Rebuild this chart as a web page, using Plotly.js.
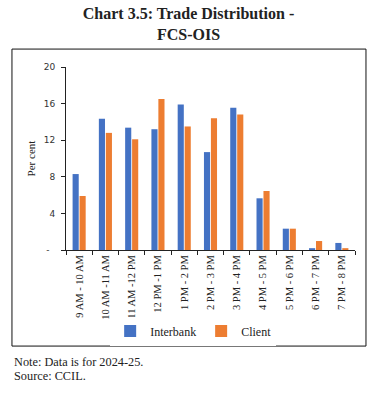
<!DOCTYPE html>
<html>
<head>
<meta charset="utf-8">
<script src="https://cdn.plot.ly/plotly-3.0.1.min.js"></script>
<style>html,body{margin:0;padding:0;background:#fff;}</style>
</head>
<body>
<div id="chart" style="width:377px;height:393px;"></div>
<script>
const categories = ["9 AM - 10 AM", "10 AM -11 AM", "11 AM -12 PM", "12 PM -1 PM", "1 PM - 2 PM", "2 PM - 3 PM", "3 PM - 4 PM", "4 PM - 5 PM", "5 PM - 6 PM", "6 PM - 7 PM", "7 PM - 8 PM"];
const interbank = [8.3, 14.35, 13.37, 13.2, 15.9, 10.7, 15.55, 5.65, 2.33, 0.2, 0.77];
const client = [5.9, 12.8, 12.1, 16.5, 13.5, 14.4, 14.8, 6.45, 2.33, 0.98, 0.2];
const yTickVals = [0, 4, 8, 12, 16, 20];
const yTickText = ["-\u00a0\u00a0", "4", "8", "12", "16", "20"];

const serif = "Liberation Serif, Times New Roman, serif";
const traces = [
  {type: "bar", name: "Interbank", x: categories, y: interbank, marker: {color: "#4472C4"}},
  {type: "bar", name: "Client", x: categories, y: client, marker: {color: "#ED7D31"}}
];
const layout = {
  width: 377, height: 393,
  margin: {l: 66, r: 22, t: 67, b: 143},
  paper_bgcolor: "#fff", plot_bgcolor: "#fff",
  barmode: "group", bargap: 0.47, bargroupgap: 0.12,
  showlegend: true,
  title: {text: "<b>Chart 3.5: Trade Distribution -<br>FCS-OIS</b>", x: 0.5, xref: "container", xanchor: "center", y: 1 - 19 / 393, yanchor: "middle", yref: "container",
    font: {family: serif, size: 16, color: "#222"}},
  font: {family: serif, color: "#222"},
  xaxis: {
    type: "category", tickangle: -90, tickson: "boundaries", ticks: "outside", ticklen: 4, tickcolor: "#222",
    showline: true, linecolor: "#222", linewidth: 1, showgrid: false, zeroline: false,
    tickfont: {family: serif, size: 10.5, color: "#222"}, automargin: false
  },
  yaxis: {
    range: [0, 20], tickvals: yTickVals, ticktext: yTickText, ticks: "outside", ticklen: 4, tickcolor: "#222",
    showline: true, linecolor: "#222", linewidth: 1, showgrid: false, zeroline: false, ticklabelstandoff: 4,
    tickfont: {family: "DejaVu Sans, Verdana, sans-serif", size: 9, color: "#333"},
    title: {text: "Per cent", font: {family: serif, size: 11, color: "#222"}, standoff: 5}, automargin: false
  },
  legend: {orientation: "h", x: 0.44, xanchor: "center", y: -0.443, yanchor: "middle", font: {family: serif, size: 12, color: "#222"},
    itemwidth: 30, tracegroupgap: 0},
  shapes: [
    {type: "rect", xref: "paper", yref: "paper", x0: -0.187, x1: 1.038, y0: -0.525, y1: 1.098, line: {color: "#111", width: 1}, fillcolor: "rgba(0,0,0,0)"}
  ],
  annotations: [
    {text: "Note: Data is for 2024-25.", xref: "paper", yref: "paper", x: -0.187, y: (250 - 362) / 183, xanchor: "left", yanchor: "middle", showarrow: false, font: {family: serif, size: 12.3, color: "#222"}},
    {text: "Source: CCIL.", xref: "paper", yref: "paper", x: -0.187, y: (250 - 376) / 183, xanchor: "left", yanchor: "middle", showarrow: false, font: {family: serif, size: 12.3, color: "#222"}}
  ]
};
Plotly.newPlot("chart", traces, layout, {displayModeBar: false, staticPlot: true});
</script>
</body>
</html>
